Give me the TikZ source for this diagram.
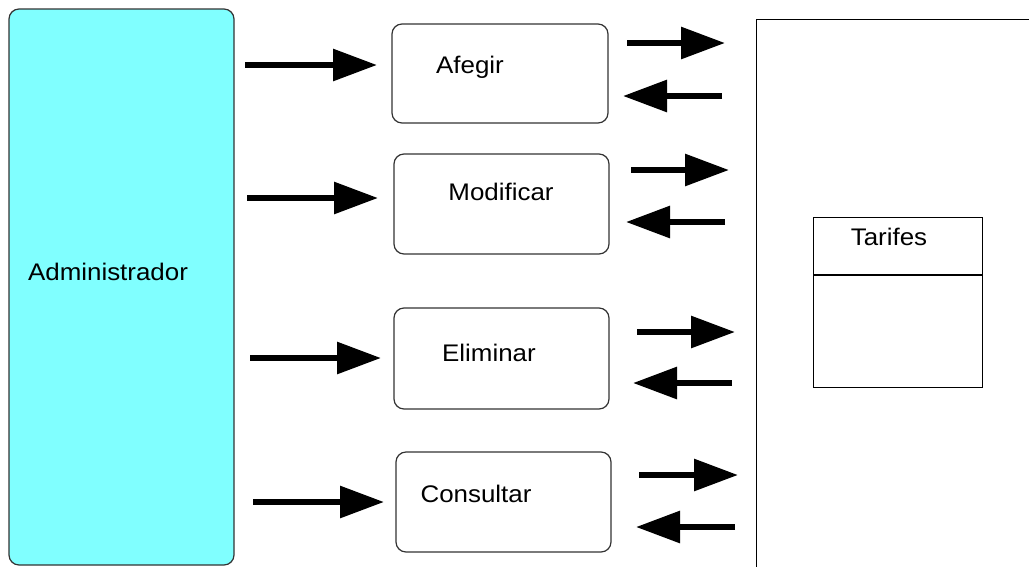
\documentclass[tikz,border=0pt]{standalone}
\usepackage{fontspec}
\setmainfont{Liberation Sans}[FakeStretch=1.08]
\usetikzlibrary{arrows.meta}
\definecolor{admcyan}{HTML}{80FFFF}
\definecolor{edge}{HTML}{333333}
\tikzset{
  box/.style={draw=edge, line width=1.2pt, rounded corners=10pt, inner sep=0pt},
  plain/.style={draw=black, line width=1.3pt, inner sep=0pt},
  lbl/.style={inner sep=0pt, font=\fontsize{24pt}{28pt}\selectfont},
  arr/.style={line width=6pt, -{Triangle[length=44pt,width=31pt]}},
}
\begin{document}
\begin{tikzpicture}[x=1pt,y=-1pt]
\useasboundingbox (0,0) rectangle (1029,566);
% nodes
\node[box, fill=admcyan, minimum width=225pt, minimum height=556pt] (admin) at (121.5,287) {};
\node[lbl] (admint) at (108,272) {Administrador};
\node[box, minimum width=216pt, minimum height=99pt] (afegir) at (500,73.5) {};
\node[lbl] (afegirt) at (470,67) {Afegir};
\node[box, minimum width=215pt, minimum height=100pt] (modif) at (501.5,204) {};
\node[lbl] (modift) at (501,192) {Modificar};
\node[box, minimum width=215pt, minimum height=101pt] (elim) at (501.5,358.5) {};
\node[lbl] (elimt) at (489,353) {Eliminar};
\node[box, minimum width=215pt, minimum height=100pt] (cons) at (503.5,502) {};
\node[lbl] (const) at (476,494) {Consultar};
% data store
\node[plain, minimum width=300pt, minimum height=580pt, anchor=north west] (store) at (756,19) {};
\node[plain, minimum width=169pt, minimum height=170pt, anchor=north west] (tarifes) at (813,217) {};
\draw[line width=1.3pt] (813,275) -- (982,275);
\node[lbl] (tarifest) at (889,237) {Tarifes};
% arrow end points
\coordinate (a1s) at (245,65);  \coordinate (a1e) at (377,65);
\coordinate (a2s) at (247,198); \coordinate (a2e) at (378,198);
\coordinate (a3s) at (250,358); \coordinate (a3e) at (381,358);
\coordinate (a4s) at (253,502); \coordinate (a4e) at (384,502);
\coordinate (r1s) at (627,43);  \coordinate (r1e) at (725,43);
\coordinate (l1s) at (722,96);  \coordinate (l1e) at (623,96);
\coordinate (r2s) at (631,170); \coordinate (r2e) at (729,170);
\coordinate (l2s) at (725,222); \coordinate (l2e) at (626,222);
\coordinate (r3s) at (637,332); \coordinate (r3e) at (735,332);
\coordinate (l3s) at (732,383); \coordinate (l3e) at (633,383);
\coordinate (r4s) at (639,475); \coordinate (r4e) at (738,475);
\coordinate (l4s) at (735,527); \coordinate (l4e) at (636,527);
\draw[arr] (a1s) -- (a1e);
\draw[arr] (a2s) -- (a2e);
\draw[arr] (a3s) -- (a3e);
\draw[arr] (a4s) -- (a4e);
\draw[arr] (r1s) -- (r1e);
\draw[arr] (l1s) -- (l1e);
\draw[arr] (r2s) -- (r2e);
\draw[arr] (l2s) -- (l2e);
\draw[arr] (r3s) -- (r3e);
\draw[arr] (l3s) -- (l3e);
\draw[arr] (r4s) -- (r4e);
\draw[arr] (l4s) -- (l4e);
\end{tikzpicture}
\end{document}
